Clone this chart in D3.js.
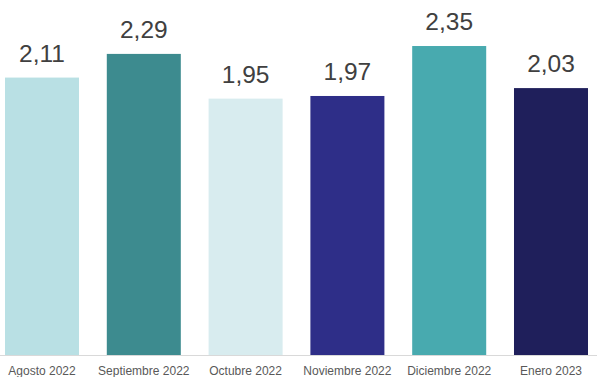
<!DOCTYPE html>
<html>
<head>
<meta charset="utf-8">
<script src="https://cdn.jsdelivr.net/npm/d3@7"></script>
<style>
  html, body { margin: 0; padding: 0; background: #ffffff; }
  svg { display: block; }
</style>
</head>
<body>
<svg id="chart" width="597" height="377"></svg>
<script>
const months = ["Agosto 2022", "Septiembre 2022", "Octubre 2022", "Noviembre 2022", "Diciembre 2022", "Enero 2023"];
const values = [2.11, 2.29, 1.95, 1.97, 2.35, 2.03];
const colors = ["#b9e0e4", "#3d8b8f", "#d8ecef", "#2e2e88", "#48aaaf", "#1f1f5b"];

const svg = d3.select("#chart");
const fontFamily = "'Liberation Sans', Arial, sans-serif";

const x = d3.scaleBand()
  .domain(months)
  .range([5, 588])
  .paddingInner(0.273)
  .paddingOuter(0);

const y = d3.scaleLinear()
  .domain([0, 2.7])
  .range([355, 0]);

const fmt = v => d3.format(".2f")(v).replace(".", ",");

// bars
svg.append("g")
  .selectAll("rect")
  .data(values)
  .join("rect")
  .attr("x", (d, i) => x(months[i]))
  .attr("y", d => y(d))
  .attr("width", x.bandwidth())
  .attr("height", d => y(0) - y(d))
  .attr("fill", (d, i) => colors[i]);

// value labels
svg.append("g")
  .selectAll("text")
  .data(values)
  .join("text")
  .attr("x", (d, i) => x(months[i]) + x.bandwidth() / 2)
  .attr("y", d => y(d) - 16)
  .attr("text-anchor", "middle")
  .attr("font-family", fontFamily)
  .attr("font-size", 24.5)
  .attr("fill", "#404040")
  .text(d => fmt(d));

// category axis
const axis = svg.append("g")
  .attr("transform", `translate(0, ${y(0) + 0.5})`)
  .call(d3.axisBottom(x).tickSize(0).tickPadding(11));
axis.select(".domain").remove();
axis.selectAll("text")
  .attr("font-family", fontFamily)
  .attr("font-size", 12)
  .attr("fill", "#595959");
svg.append("line")
  .attr("x1", 0)
  .attr("x2", 597)
  .attr("y1", y(0) + 0.5)
  .attr("y2", y(0) + 0.5)
  .attr("stroke", "#d9d9d9")
  .attr("stroke-width", 1);
</script>
</body>
</html>
